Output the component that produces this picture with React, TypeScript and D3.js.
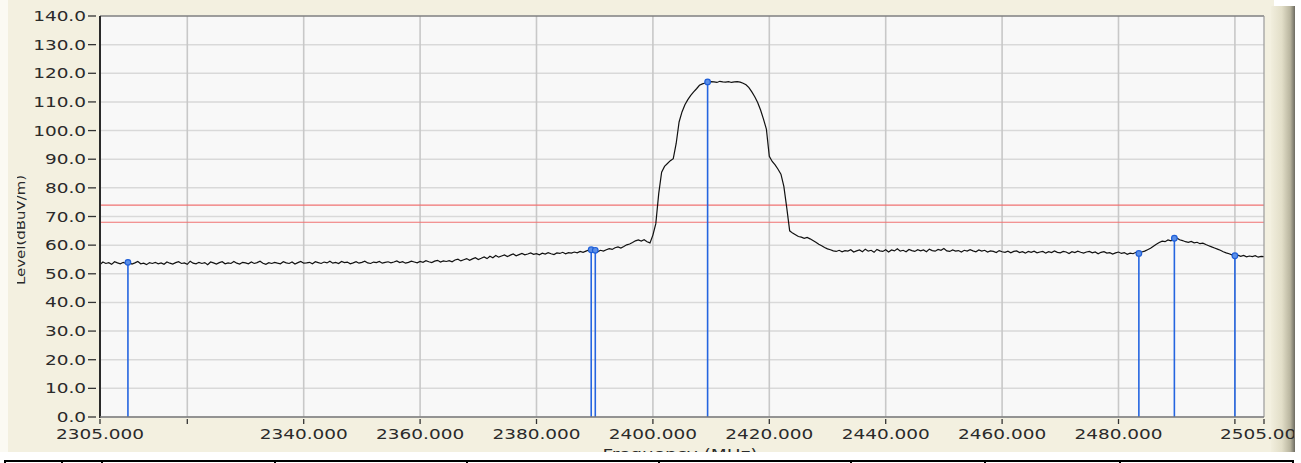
import React from "react";
import * as d3 from "d3";

// ---------- data ----------
const FREQ_MIN = 2305;
const FREQ_MAX = 2505;
const SWEEP_STEP = 0.5; // MHz between trace points

const traceLevels: number[] = [
  // 2305 - 2314.5
  53.2, 54.1, 53.6, 53.9, 53.3, 54.2, 53.8, 53.5, 54.0, 53.6, 53.9, 53.4, 53.8, 54.3, 53.5, 53.7, 53.2, 53.9, 53.6, 54.0,
  // 2315 - 2324.5
  53.5, 53.8, 53.3, 54.1, 53.7, 53.4, 53.9, 54.2, 53.6, 53.8, 53.3, 54.4, 53.7, 53.5, 54.0, 53.6, 53.9, 53.2, 54.1, 53.8,
  // 2325 - 2334.5
  53.4, 53.9, 54.2, 53.5, 53.8, 53.6, 54.3, 53.7, 53.4, 54.0, 53.8, 53.5, 54.1, 53.6, 53.9, 54.4, 53.7, 53.3, 53.9, 53.6,
  // 2335 - 2344.5
  54.0, 53.7, 53.5, 54.2, 53.8, 53.6, 54.1, 53.4, 53.9, 54.3, 53.7, 53.8, 54.0, 53.5, 54.2, 53.9, 53.6, 54.1, 53.8, 54.4,
  // 2345 - 2354.5
  53.7, 54.0, 53.6, 54.3, 53.9, 54.1, 53.5, 53.8, 54.2, 53.7, 54.0, 54.4, 53.8, 53.6, 54.1, 53.9, 54.3, 53.7, 54.0, 54.2,
  // 2355 - 2364.5
  53.8, 54.1, 54.5, 53.9, 54.2, 53.7, 54.0, 54.4, 54.1, 53.8, 54.3, 54.0, 54.6, 54.2, 53.9, 54.4, 54.7, 54.1, 54.5, 54.3,
  // 2365 - 2374.5
  54.6, 54.2, 54.8, 55.1, 54.5, 54.9, 55.3, 54.7, 55.2, 55.6, 55.0, 55.4, 55.9, 55.3, 56.1, 55.6, 56.4, 55.8, 56.2, 56.6,
  // 2375 - 2384.5
  56.0, 56.5, 56.9, 56.3, 56.7, 57.1, 56.6, 56.9, 57.3, 56.8, 57.0, 56.6, 57.2, 56.9, 57.4, 57.0, 56.7, 57.3, 57.1, 57.5,
  // 2385 - 2394.5
  57.0, 57.4, 57.2, 57.6, 57.3, 57.8, 57.5, 57.9, 58.3, 58.6, 58.1, 57.7, 58.2, 57.9, 58.4, 58.8, 58.5, 59.1, 59.4, 59.0,
  // 2395 - 2404.5
  59.5, 60.1, 60.4, 60.9, 61.5, 61.8, 61.4, 61.9, 61.2, 60.8, 63.5, 67.5, 78.0, 85.5, 87.5, 88.5, 89.5, 90.2, 95.5, 103.0,
  // 2405 - 2414.5
  106.5, 109.0, 110.8, 112.3, 113.5, 114.6, 115.8, 116.3, 116.6, 116.9, 117.1, 117.0, 116.8, 117.2, 117.0, 116.9, 117.1, 116.8, 117.0, 117.1,
  // 2415 - 2424.5
  116.9, 116.5, 116.0, 115.0, 113.5, 111.8, 109.8, 107.2, 104.0, 100.5, 91.0, 89.2, 88.0, 86.5, 84.8, 80.5, 73.0, 65.0, 64.2, 63.6,
  // 2425 - 2434.5
  63.0, 62.8, 62.4, 62.7, 62.2, 61.6, 61.0, 60.3, 59.8, 59.2, 58.7, 58.4, 58.0, 57.8, 58.2, 57.7, 58.1, 57.9, 58.4, 57.6,
  // 2435 - 2444.5
  58.0, 58.3, 57.7, 58.6, 57.9, 58.2, 57.5, 58.5, 58.0, 57.8, 58.4, 57.6, 58.3, 58.0, 58.7, 57.9, 58.2, 57.7, 58.5, 58.1,
  // 2445 - 2454.5
  57.8, 58.4, 58.0, 58.3, 57.7, 58.6, 58.1, 57.9, 58.5, 58.2, 58.8, 58.0, 57.8, 58.3, 57.9, 58.1, 57.6, 58.2, 57.9, 58.4,
  // 2455 - 2464.5
  58.0, 57.7, 58.3, 57.9, 58.2, 57.6, 58.0, 57.8, 57.4, 58.1, 57.7, 57.5, 57.9, 57.3, 57.8, 58.0, 57.4, 57.7, 57.2, 57.8,
  // 2465 - 2474.5
  57.5, 57.9, 57.3, 57.6, 57.8, 57.2, 57.7, 57.4, 58.0, 57.5, 57.3, 57.8, 57.6, 57.1, 57.7, 57.4, 57.9, 57.5, 57.2, 57.6,
  // 2475 - 2484.5
  57.8, 57.3, 57.6, 57.0, 57.5, 57.7, 57.2, 57.4, 56.9, 57.3, 57.6, 57.1, 57.4, 56.8, 57.2, 57.0, 57.5, 57.1, 57.6, 57.9,
  // 2485 - 2494.5
  58.4, 58.9, 59.6, 60.3, 60.9, 61.4, 61.2, 61.8, 61.5, 62.1, 62.5, 61.9, 61.6, 61.2, 61.0, 61.3, 60.8, 61.0, 60.5, 60.7,
  // 2495 - 2504.5
  60.2, 59.8, 59.4, 59.0, 58.6, 58.2, 57.7, 57.3, 57.0, 56.6, 56.3, 56.5, 56.1, 56.4, 55.9, 56.2, 56.0, 56.3, 55.8, 56.1,
  // 2505
  56.0,
];

const markerFreqs = [2309.8, 2389.4, 2390.1, 2409.4, 2483.5, 2489.6, 2500.0];
const markerLevels = [54.0, 58.4, 58.2, 117.0, 57.1, 62.4, 56.3];

const limitLevels = [74, 68];

const yTickValues = [0, 10, 20, 30, 40, 50, 60, 70, 80, 90, 100, 110, 120, 130, 140];
const xGridValues = [2320, 2340, 2360, 2380, 2400, 2420, 2440, 2460, 2480, 2500];
const xTickValues = [2305, 2320, 2340, 2360, 2380, 2400, 2420, 2440, 2460, 2480, 2500, 2505];
const xLabelValues = [2305, 2340, 2360, 2380, 2400, 2420, 2440, 2460, 2480, 2505];

const yTitle = "Level(dBuV/m)";
const xTitle = "Frequency (MHz)";

const tableDividers = [5, 62, 102, 275, 467, 659, 851, 985, 1120, 1293];

// ---------- layout ----------
const W = 1301;
const H = 463;
const PL = 100;
const PR = 1264;
const PT = 16;
const PB = 417;
const FONT = "'DejaVu Sans', Verdana, sans-serif";
const SX = 1.32;

export default function App() {
  const x = d3.scaleLinear().domain([FREQ_MIN, FREQ_MAX]).range([PL, PR]);
  const y = d3.scaleLinear().domain([0, 140]).range([PB, PT]);

  const pts: [number, number][] = traceLevels.map((v, i) => [FREQ_MIN + i * SWEEP_STEP, v]);
  const line = d3
    .line<[number, number]>()
    .x((d) => x(d[0]))
    .y((d) => y(d[1]));

  return (
    <svg
      width={W}
      height={H}
      style={{ position: "absolute", left: 0, top: 0, background: "#ffffff" }}
      fontFamily={FONT}
    >
      <defs>
        <linearGradient id="bevel" x1="0" x2="1" y1="0" y2="0">
          <stop offset="0" stopColor="#f1eedd" />
          <stop offset="0.45" stopColor="#e2dec8" />
          <stop offset="0.8" stopColor="#b9b59f" />
          <stop offset="1" stopColor="#6c6a60" />
        </linearGradient>
        <clipPath id="plotClip">
          <rect x={PL} y={PT - 1} width={PR - PL + 1} height={PB - PT + 1} />
        </clipPath>
        <clipPath id="panelClip">
          <rect x={17} y={0} width={1277} height={452} />
        </clipPath>
      </defs>

      {/* panel */}
      <rect x={8} y={0} width={1266} height={452} fill="#f3f0e0" />
      <rect x={0} y={0} width={8} height={452} fill="#fbfaf3" />
      <rect x={1271} y={6} width={24} height={446} fill="url(#bevel)" />

      {/* plot background */}
      <rect x={PL} y={PT} width={PR - PL} height={PB - PT} fill="#f8f8f8" />

      {/* grid */}
      {yTickValues.map((v) => (
        <line key={"gy" + v} x1={PL} x2={PR} y1={y(v)} y2={y(v)} stroke="#d9d9d9" strokeWidth={1.5} />
      ))}
      {xGridValues.map((v) => (
        <line key={"gx" + v} x1={x(v)} x2={x(v)} y1={PT} y2={PB} stroke="#c8c8c8" strokeWidth={1.6} />
      ))}

      {/* limit lines */}
      {limitLevels.map((v) => (
        <line key={"lim" + v} x1={PL} x2={PR} y1={y(v)} y2={y(v)} stroke="#f07272" strokeWidth={1.2} />
      ))}

      {/* markers (stems), trace, marker heads */}
      <g clipPath="url(#plotClip)">
        {markerFreqs.map((f, i) => (
          <line
            key={"ms" + i}
            x1={x(f)}
            x2={x(f)}
            y1={PB}
            y2={y(markerLevels[i])}
            stroke="#2565e0"
            strokeWidth={1.6}
          />
        ))}
        <path d={line(pts) || ""} fill="none" stroke="#111" strokeWidth={1.2} />
        {markerFreqs.map((f, i) => (
          <circle
            key={"mc" + i}
            cx={x(f)}
            cy={y(markerLevels[i])}
            r={2.8}
            fill="#5b8fe8"
            stroke="#1f5fd8"
            strokeWidth={1.2}
          />
        ))}
      </g>

      {/* plot frame */}
      <line x1={PL} x2={PR} y1={PT} y2={PT} stroke="#5a5a5a" strokeWidth={1.2} />
      <line x1={PR} x2={PR} y1={PT} y2={PB} stroke="#9a9a9a" strokeWidth={1.2} />
      <line x1={PL} x2={PL} y1={PT} y2={PB + 1} stroke="#2a2a2a" strokeWidth={2} />
      <line x1={PL} x2={PR} y1={PB} y2={PB} stroke="#7a7a7a" strokeWidth={1.5} />

      {/* y axis ticks and labels */}
      {yTickValues.map((v) => (
        <g key={"yt" + v}>
          <line x1={88} x2={96} y1={y(v)} y2={y(v)} stroke="#333" strokeWidth={1.3} />
          <text
            transform={`translate(86,${y(v) + 5}) scale(${SX},1)`}
            textAnchor="end"
            fontSize={14}
            fill="#2a2a2a"
          >
            {v.toFixed(1)}
          </text>
        </g>
      ))}

      {/* x axis ticks and labels */}
      {xTickValues.map((v) => (
        <line key={"xt" + v} x1={x(v)} x2={x(v)} y1={PB + 2} y2={PB + 7} stroke="#333" strokeWidth={1.3} />
      ))}
      <g clipPath="url(#panelClip)">
        {xLabelValues.map((v) => (
          <text
            key={"xl" + v}
            transform={`translate(${x(v)},439) scale(${SX},1)`}
            textAnchor="middle"
            fontSize={14}
            fill="#2a2a2a"
          >
            {v.toFixed(3)}
          </text>
        ))}
        <text
          transform={`translate(680,459) scale(${SX},1)`}
          textAnchor="middle"
          fontSize={14}
          fill="#2a2a2a"
        >
          {xTitle}
        </text>
        <text
          transform={`translate(25,230) rotate(-90) scale(1.15,1)`}
          textAnchor="middle"
          fontSize={13}
          fill="#2a2a2a"
        >
          {yTitle}
        </text>
      </g>

      {/* table strip below */}
      <line x1={5} x2={1294} y1={461} y2={461} stroke="#000" strokeWidth={2} />
      {tableDividers.map((d) => (
        <line key={"td" + d} x1={d} x2={d} y1={460} y2={463} stroke="#000" strokeWidth={2} />
      ))}
    </svg>
  );
}
